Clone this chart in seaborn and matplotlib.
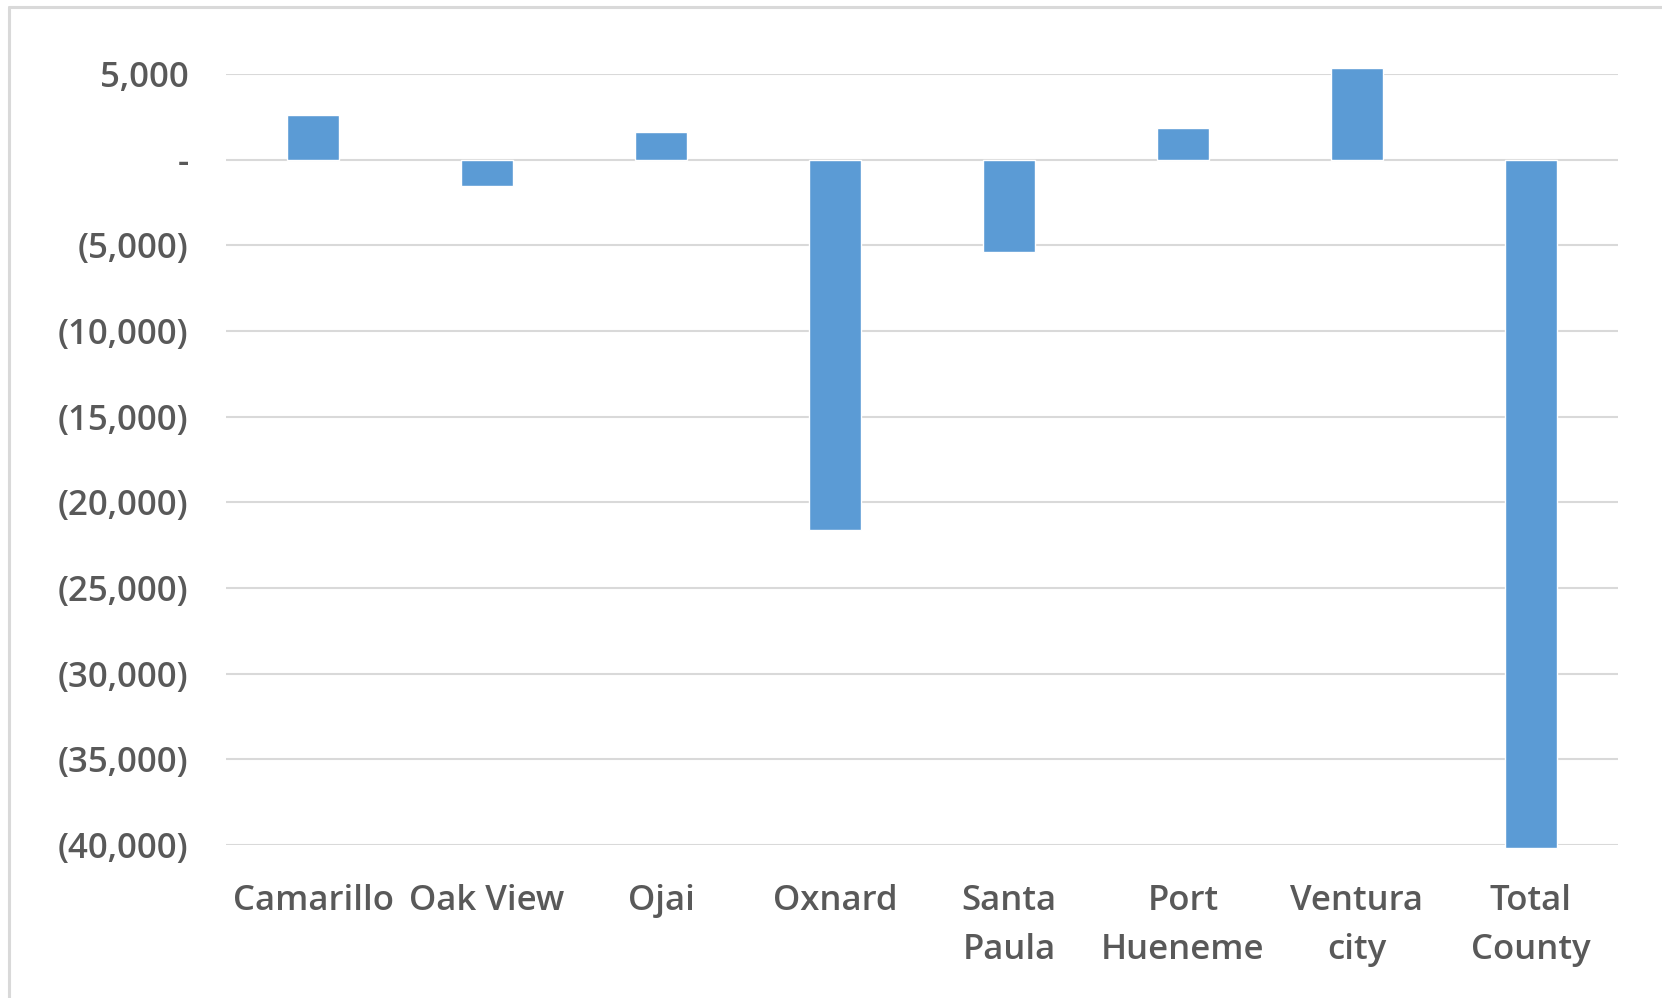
import matplotlib
matplotlib.use("Agg")
import matplotlib.pyplot as plt
import matplotlib.ticker as mticker
from matplotlib.lines import Line2D
import seaborn as sns
import pandas as pd

# change by city
cities = ["Camarillo", "Oak View", "Ojai", "Oxnard", "Santa\nPaula",
          "Port\nHueneme", "Ventura\ncity", "Total\nCounty"]
change = [2630, -1520, 1600, -21600, -5380, 1870, 5350, -40200]
yticks = [5000, 0, -5000, -10000, -15000, -20000, -25000, -30000, -35000, -40000]

df = pd.DataFrame({"city": cities, "change": change})

sns.set_theme(style="white")
plt.rcParams["font.family"] = ["Open Sans", "DejaVu Sans"]

txt = "#595959"
fig = plt.figure(figsize=(16.62, 9.98), dpi=100)
ax = fig.add_axes([0.136, 0.1533, 0.8375, 0.7726])

sns.barplot(data=df, x="city", y="change", color="#5B9BD5", saturation=1,
            width=0.3, ax=ax, zorder=3)
for p in ax.patches:
    p.set_clip_on(False)

def acct(v, pos):
    if v == 0:
        return "-"
    if v < 0:
        return "({:,.0f})".format(-v)
    return "{:,.0f}".format(v)

ax.set_ylim(-40000, 5000)
ax.set_yticks(yticks)
ax.yaxis.set_major_formatter(mticker.FuncFormatter(acct))
ax.grid(axis="y", color="#d9d9d9", linewidth=1.5, zorder=0)
ax.set_axisbelow(True)
for s in ax.spines.values():
    s.set_visible(False)
ax.set_xlabel("")
ax.set_ylabel("")
ax.tick_params(axis="y", length=0, pad=27, labelsize=25, labelcolor=txt)
ax.tick_params(axis="x", length=0, pad=28, labelsize=25, labelcolor=txt)
for lab in ax.get_xticklabels() + ax.get_yticklabels():
    lab.set_fontweight("semibold")
for lab in ax.get_xticklabels():
    lab.set_linespacing(1.6)

# outer chart frame (top and left edges)
fig.add_artist(Line2D([0.0054, 1], [0.993, 0.993], color="#d9d9d9", linewidth=2.2))
fig.add_artist(Line2D([0.0054, 0.0054], [0, 0.993], color="#d9d9d9", linewidth=2.2))

fig.savefig("out.png", dpi=100, facecolor="white")
